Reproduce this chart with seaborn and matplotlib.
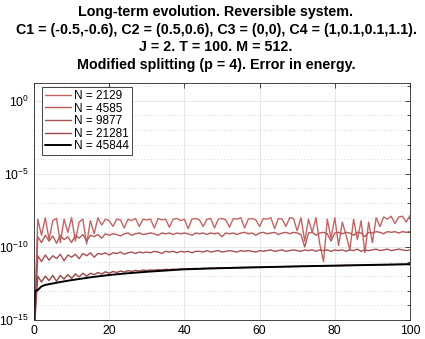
import numpy as np
import pandas as pd
import matplotlib
matplotlib.use("Agg")
import matplotlib.pyplot as plt
import seaborn as sns
from matplotlib.ticker import NullFormatter, FixedLocator

sns.set_theme(style="white")
plt.rcParams['font.family'] = ['Liberation Sans', 'DejaVu Sans']
plt.rcParams['mathtext.fontset'] = 'custom'
plt.rcParams['mathtext.rm'] = 'Liberation Sans'
plt.rcParams['text.color'] = 'black'

# ---- data (log10 of energy error) ----
t = list(range(101))
labels = ["N = 2129", "N = 4585", "N = 9877", "N = 21281", "N = 45844"]

log_err_2129 = [-16,
    -8.1, -9.2, -8.0, -9.5, -8.2, -8.05, -9.7, -8.1, -9.0, -8.0,
    -9.6, -8.3, -8.1, -9.8, -8.2, -9.1, -8.0, -8.5, -8.1, -8.2,
    -8.6, -8.1, -8.15, -8.7, -8.1, -8.2, -8.05, -8.6, -8.1, -8.15,
    -8.1, -8.7, -8.05, -8.15, -8.1, -8.65, -8.1, -8.05, -8.2, -8.1,
    -8.75, -8.1, -8.05, -8.15, -8.6, -8.1, -8.05, -8.7, -8.1, -8.05,
    -8.15, -8.65, -8.05, -8.1, -8.0, -8.7, -8.1, -8.05, -8.15, -8.6,
    -8.05, -8.1, -8.0, -8.75, -8.05, -8.1, -8.6, -8.0, -8.05, -8.9,
    -8.0, -9.6, -8.1, -9.0, -8.0, -9.8, -11.0, -8.1, -9.4, -8.0,
    -9.9, -8.3, -9.2, -10.2, -8.1, -9.5, -8.2, -10.4, -8.3, -9.7,
    -8.0, -8.6, -7.95, -8.1, -7.9, -8.4, -7.95, -7.9, -8.3, -7.85]

log_err_4585 = [-16,
    -9.3, -9.7, -9.2, -9.6, -9.25, -9.75, -9.2, -9.5, -9.3, -9.7,
    -9.2, -9.4, -9.15, -9.6, -9.2, -9.3, -9.15, -9.4, -9.1, -9.2,
    -9.1, -9.15, -9.25, -9.1, -9.05, -9.2, -9.1, -9.05, -9.15, -9.1,
    -9.05, -9.1, -9.2, -9.05, -9.1, -9.05, -9.15, -9.05, -9.1, -9.05,
    -9.1, -9.2, -9.05, -9.1, -9.05, -9.15, -9.05, -9.1, -9.05, -9.3,
    -9.05, -9.1, -9.05, -9.15, -9.05, -9.0, -9.1, -9.05, -9.2, -9.05,
    -9.0, -9.1, -9.05, -9.0, -9.15, -9.05, -9.0, -9.1, -9.0, -9.05,
    -9.15, -10.0, -9.05, -9.0, -9.2, -9.05, -9.0, -9.1, -9.6, -9.05,
    -9.0, -9.1, -9.0, -9.05, -9.2, -9.0, -9.05, -9.3, -9.0, -9.05,
    -8.95, -9.0, -9.1, -8.95, -9.0, -8.95, -9.05, -8.95, -9.0, -8.95]

log_err_9877 = [-16,
    -10.6, -11.0, -10.55, -10.9, -10.6, -10.8, -10.5, -10.95, -10.55, -10.7,
    -10.5, -10.8, -10.45, -10.6, -10.4, -10.7, -10.45, -10.5, -10.4, -10.55,
    -10.4, -10.45, -10.35, -10.5, -10.4, -10.35, -10.45, -10.35, -10.4, -10.35,
    -10.4, -10.3, -10.35, -10.45, -10.3, -10.35, -10.3, -10.4, -10.3, -10.35,
    -10.3, -10.4, -10.3, -10.3, -10.35, -10.25, -10.35, -10.3, -10.25, -10.35,
    -10.3, -10.25, -10.3, -10.35, -10.25, -10.3, -10.25, -10.3, -10.35, -10.25,
    -10.3, -10.25, -10.2, -10.3, -10.25, -10.2, -10.3, -10.25, -10.2, -10.25,
    -10.3, -10.2, -10.25, -10.2, -10.3, -10.2, -10.25, -10.2, -10.3, -10.2,
    -10.25, -10.2, -10.3, -10.2, -10.25, -10.15, -10.3, -10.2, -10.25, -10.2,
    -10.15, -10.25, -10.2, -10.15, -10.25, -10.2, -10.15, -10.2, -10.25, -10.2]

log_err_21281 = [-16,
    -12.0, -12.4, -12.0, -12.3, -11.95, -12.35, -11.95, -12.2, -11.9, -12.15,
    -11.85, -12.05, -11.8, -12.0, -11.8, -11.9, -11.75, -11.85, -11.7, -11.8,
    -11.68, -11.75, -11.65, -11.72, -11.62, -11.68, -11.6, -11.65, -11.58, -11.62,
    -11.57, -11.6, -11.55, -11.58, -11.53, -11.56, -11.52, -11.54, -11.5, -11.52,
    -11.49, -11.5, -11.47, -11.49, -11.46, -11.47, -11.44, -11.46, -11.43, -11.44,
    -11.42, -11.43, -11.41, -11.42, -11.4, -11.41, -11.39, -11.4, -11.38, -11.39,
    -11.37, -11.38, -11.36, -11.37, -11.35, -11.36, -11.34, -11.35, -11.33, -11.34,
    -11.32, -11.33, -11.31, -11.32, -11.3, -11.31, -11.29, -11.3, -11.28, -11.29,
    -11.27, -11.28, -11.26, -11.27, -11.25, -11.26, -11.24, -11.25, -11.23, -11.24,
    -11.22, -11.23, -11.21, -11.22, -11.2, -11.21, -11.19, -11.2, -11.19, -11.2]

t_45844 = [0, 0.2, 0.5, 1, 2, 3, 5, 7, 10, 15, 20, 25, 30, 40, 50, 60, 70, 80, 90, 100]
log_err_45844 = [-16, -13.1, -13.0, -12.95, -12.7, -12.6, -12.5, -12.4, -12.27, -12.08,
                 -11.92, -11.8, -11.7, -11.53, -11.45, -11.39, -11.33, -11.28, -11.23, -11.18]

title_lines = ["Long-term evolution. Reversible system.",
               "C1 = (-0.5,-0.6), C2 = (0.5,0.6), C3 = (0,0), C4 = (1,0.1,0.1,1.1).",
               "J = 2. T = 100. M = 512.",
               "Modified splitting (p = 4). Error in energy."]

colors = ['#c46464', '#b65a5a', '#a85050', '#984646', '#000000']
widths = [1.0, 1.0, 1.0, 1.0, 1.4]

series = [(t, log_err_2129), (t, log_err_4585), (t, log_err_9877),
          (t, log_err_21281), (t_45844, log_err_45844)]

fig = plt.figure(figsize=(4.25, 3.39), dpi=100)
ax = fig.add_axes([34/425, 19/339, 376/425, 237/339])

for (tt, le), lab, c, w in zip(series, labels, colors, widths):
    df = pd.DataFrame({'t': tt, 'err': np.power(10.0, le)})
    sns.lineplot(data=df, x='t', y='err', ax=ax, color=c, linewidth=w,
                 label=lab, estimator=None, sort=False)

ax.set_yscale('log')
ax.set_xlim(0, 100)
ax.set_ylim(1e-15, 10**1.22)
ax.set_xticks([0, 20, 40, 60, 80, 100])
ax.yaxis.set_major_locator(FixedLocator([1e-15, 1e-10, 1e-5, 1e0]))
ax.yaxis.set_minor_locator(FixedLocator([10.0**k for k in range(-15, 2)]))
ax.yaxis.set_minor_formatter(NullFormatter())
ax.set_xlabel('')
ax.set_ylabel('')

ax.grid(True, which='major', color='#e3e3e3', linewidth=0.6, linestyle='-')
ax.grid(True, which='minor', axis='y', color='#c8c8c8', linewidth=0.6, linestyle=(0, (1, 3)))
ax.set_axisbelow(True)
for s in ax.spines.values():
    s.set_color('#262626')
    s.set_linewidth(0.6)
ax.tick_params(which='both', direction='in', top=True, right=True, colors='#262626',
               labelsize=8.8, width=0.6, labelcolor='black')
ax.tick_params(which='major', length=3.5)
ax.tick_params(which='minor', length=2)

leg = ax.legend(loc='upper left', bbox_to_anchor=(8/376, 1 - 4/237), borderaxespad=0,
                fontsize=8.5, handlelength=2.2, labelspacing=0.05, handletextpad=0.25,
                borderpad=0.25, fancybox=False, framealpha=1, edgecolor='#262626')
leg.get_frame().set_linewidth(0.6)

fig.text(216/425, (339 - 69)/339, "\n".join(title_lines), ha='center', va='baseline',
         multialignment='center', fontsize=10.3, fontweight='bold', linespacing=1.33,
         color='black')

fig.savefig('out.png', dpi=100)
